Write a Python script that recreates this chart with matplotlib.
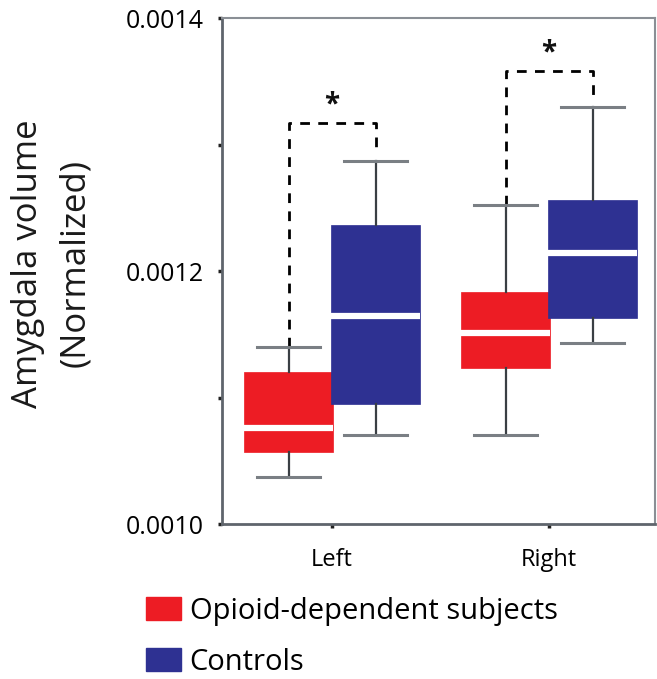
import matplotlib
matplotlib.use("Agg")
import matplotlib.pyplot as plt
from matplotlib.patches import Patch

plt.rcParams['font.family'] = ['Open Sans', 'DejaVu Sans']

# hemisphere groups and box statistics (normalized amygdala volume)
sides = ["Left", "Right"]
groups = ["Opioid-dependent subjects", "Controls"]
colors = ["#ED1C24", "#2E3192"]
ylabel_lines = ["Amygdala volume", "(Normalized)"]

whislo = [[0.0010373, 0.0010706], [0.0010706, 0.0011429]]
q1 = [[0.0010571, 0.0010952], [0.0011238, 0.0011627]]
med = [[0.0010762, 0.0011643], [0.0011508, 0.0012143]]
q3 = [[0.0011206, 0.0012365], [0.0011833, 0.0012563]]
whishi = [[0.0011405, 0.0012873], [0.0012524, 0.0013302]]

# dashed bracket heights and where the right arm stops
bracket_top = [0.0013175, 0.0013587]
bracket_end = [0.0012960, 0.0013380]

fig = plt.figure(figsize=(6.57, 6.79), dpi=100)
ax = fig.add_axes([0.338, 0.228, 0.659, 0.745])

offsets = [-0.2, 0.2]
for i, side in enumerate(sides):
    for j in range(2):
        stats = [dict(whislo=whislo[i][j], q1=q1[i][j], med=med[i][j],
                      q3=q3[i][j], whishi=whishi[i][j], fliers=[])]
        ax.bxp(stats, positions=[i + 1 + offsets[j]], widths=0.41,
               patch_artist=True, showfliers=False,
               boxprops=dict(facecolor=colors[j], edgecolor=colors[j], linewidth=0.5),
               medianprops=dict(color="white", linewidth=4.5, solid_capstyle="butt"),
               whiskerprops=dict(color="#3a3f44", linewidth=1.6),
               capprops=dict(color="#7a7f84", linewidth=2.2),
               capwidths=0.29, zorder=2)

# significance brackets between groups
for i in range(2):
    xl = i + 1 + offsets[0]
    xr = i + 1 + offsets[1]
    top = bracket_top[i]
    ax.plot([xl, xl, xr, xr], [whishi[i][0], top, top, bracket_end[i]],
            color="black", linestyle=(0, (3.5, 3)), linewidth=2, zorder=1)
    ax.text(i + 1, top + 0.000014, "*", ha="center", va="center",
            fontsize=20, fontweight="bold", color="#111111")

ax.set_xlim(0.493, 2.488)
ax.set_ylim(0.0010, 0.0014)
ax.set_xticks([1, 2])
ax.set_xticklabels(sides, fontsize=17)
ax.set_yticks([0.0010, 0.0012, 0.0014])
ax.set_yticklabels(["0.0010", "0.0012", "0.0014"], fontsize=18)
ax.set_yticks([0.0011, 0.0013], minor=True)
ax.tick_params(axis="both", which="both", length=3, width=2.5, color="#222222")
ax.tick_params(axis="x", pad=14)
ax.tick_params(axis="y", pad=10)

for s in ax.spines.values():
    s.set_color("#5f656c")
    s.set_linewidth(2)
for s in ["top", "right"]:
    ax.spines[s].set_color("#8a8f95")
    ax.spines[s].set_linewidth(1.5)

# two-line y label, placed line by line for tighter spacing
for x, line in zip([0.043, 0.115], ylabel_lines):
    fig.text(x, 0.612, line, rotation=90, ha="center", va="center",
             fontsize=25, color="#1a1a1a")

handles = [Patch(facecolor=c, edgecolor=c) for c in colors]
fig.legend(handles, groups, loc="lower left", bbox_to_anchor=(0.182, -0.035),
           frameon=False, fontsize=21, handlelength=1.2, handleheight=0.83,
           handletextpad=0.3, labelspacing=0.75)

fig.savefig("out.png", dpi=100)
